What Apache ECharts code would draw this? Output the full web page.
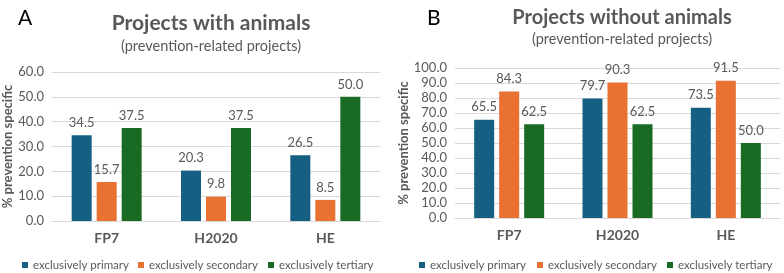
<!DOCTYPE html>
<html>
<head>
<meta charset="utf-8">
<script src="https://cdn.jsdelivr.net/npm/echarts@6/dist/echarts.min.js"></script>
<style>
  html, body { margin: 0; padding: 0; background: #fff; }
  #chart { width: 784px; height: 273px; }
</style>
</head>
<body>
<div id="chart"></div>
<script>
const categories = ['FP7', 'H2020', 'HE'];
const seriesNames = ['exclusively primary', 'exclusively secondary', 'exclusively tertiary'];
const withAnimals = [
  [34.5, 20.3, 26.5],
  [15.7, 9.8, 8.5],
  [37.5, 37.5, 50.0]
];
const withoutAnimals = [
  [65.5, 79.7, 73.5],
  [84.3, 90.3, 91.5],
  [62.5, 62.5, 50.0]
];
const colors = ['#156082', '#E97132', '#196B24'];

const grey = '#595959';
const font = 'Lato';

const chart = echarts.init(document.getElementById('chart'), null, { renderer: 'canvas' });

function yAxis(gridIndex, max, interval, gap) {
  return {
    type: 'value', gridIndex: gridIndex, min: 0, max: max, interval: interval,
    name: '% prevention specific', nameLocation: 'middle', nameGap: gap,
    nameTextStyle: { color: grey, fontFamily: font, fontSize: 13, fontWeight: 'bold' },
    axisLabel: { color: grey, fontFamily: font, fontSize: 13, formatter: v => v.toFixed(1), margin: 8 },
    splitLine: { lineStyle: { color: '#d9d9d9' } },
    axisLine: { show: false }, axisTick: { show: false }
  };
}
function xAxis(gridIndex) {
  return {
    type: 'category', gridIndex: gridIndex, data: categories,
    axisLine: { lineStyle: { color: '#d9d9d9' } }, axisTick: { show: false },
    axisLabel: { color: grey, fontFamily: font, fontSize: 14, fontWeight: 'bold', margin: 10 }
  };
}
function bars(data, idx) {
  return data.map((vals, i) => ({
    name: seriesNames[i], type: 'bar', xAxisIndex: idx, yAxisIndex: idx,
    data: vals, barWidth: 20, barGap: '25%',
    itemStyle: { color: colors[i] },
    label: { show: true, position: 'top', distance: 6, color: grey, fontFamily: font, fontSize: 13,
      formatter: p => p.value.toFixed(1) }
  }));
}
// one legend per item so each can sit where the reference puts it
function legends(lefts) {
  return seriesNames.map((name, i) => ({
    left: lefts[i], top: 259, padding: 0, itemWidth: 6, itemHeight: 6, icon: 'rect',
    textStyle: { color: grey, fontFamily: font, fontSize: 11.5 },
    data: [name], selectedMode: false
  }));
}

chart.setOption({
  animation: false,
  title: [
    { text: 'A', left: 13, top: 3, textStyle: { fontFamily: font, fontSize: 21, fontWeight: 'normal', color: '#000' } },
    { text: 'Projects with animals', left: 206, top: 8, textAlign: 'center',
      textStyle: { fontFamily: font, fontSize: 21, fontWeight: 'bold', color: grey },
      subtext: '(prevention-related projects)', itemGap: 5,
      subtextStyle: { fontFamily: font, fontSize: 14.5, color: grey } },
    { text: 'B', left: 422, top: 3, textStyle: { fontFamily: font, fontSize: 21, fontWeight: 'normal', color: '#000' } },
    { text: 'Projects without animals', left: 617, top: 3, textAlign: 'center',
      textStyle: { fontFamily: font, fontSize: 20, fontWeight: 'bold', color: grey },
      subtext: '(prevention-related projects)', itemGap: 4,
      subtextStyle: { fontFamily: font, fontSize: 14.5, color: grey } }
  ],
  legend: legends([22, 138, 268]).concat(legends([419, 537, 667])),
  grid: [
    { left: 52, right: 404, top: 72, bottom: 52 },
    { left: 455, right: 4, top: 68, bottom: 55 }
  ],
  xAxis: [xAxis(0), xAxis(1)],
  yAxis: [yAxis(0, 60, 10, 35), yAxis(1, 100, 10, 36)],
  series: bars(withAnimals, 0).concat(bars(withoutAnimals, 1))
});
</script>
</body>
</html>
